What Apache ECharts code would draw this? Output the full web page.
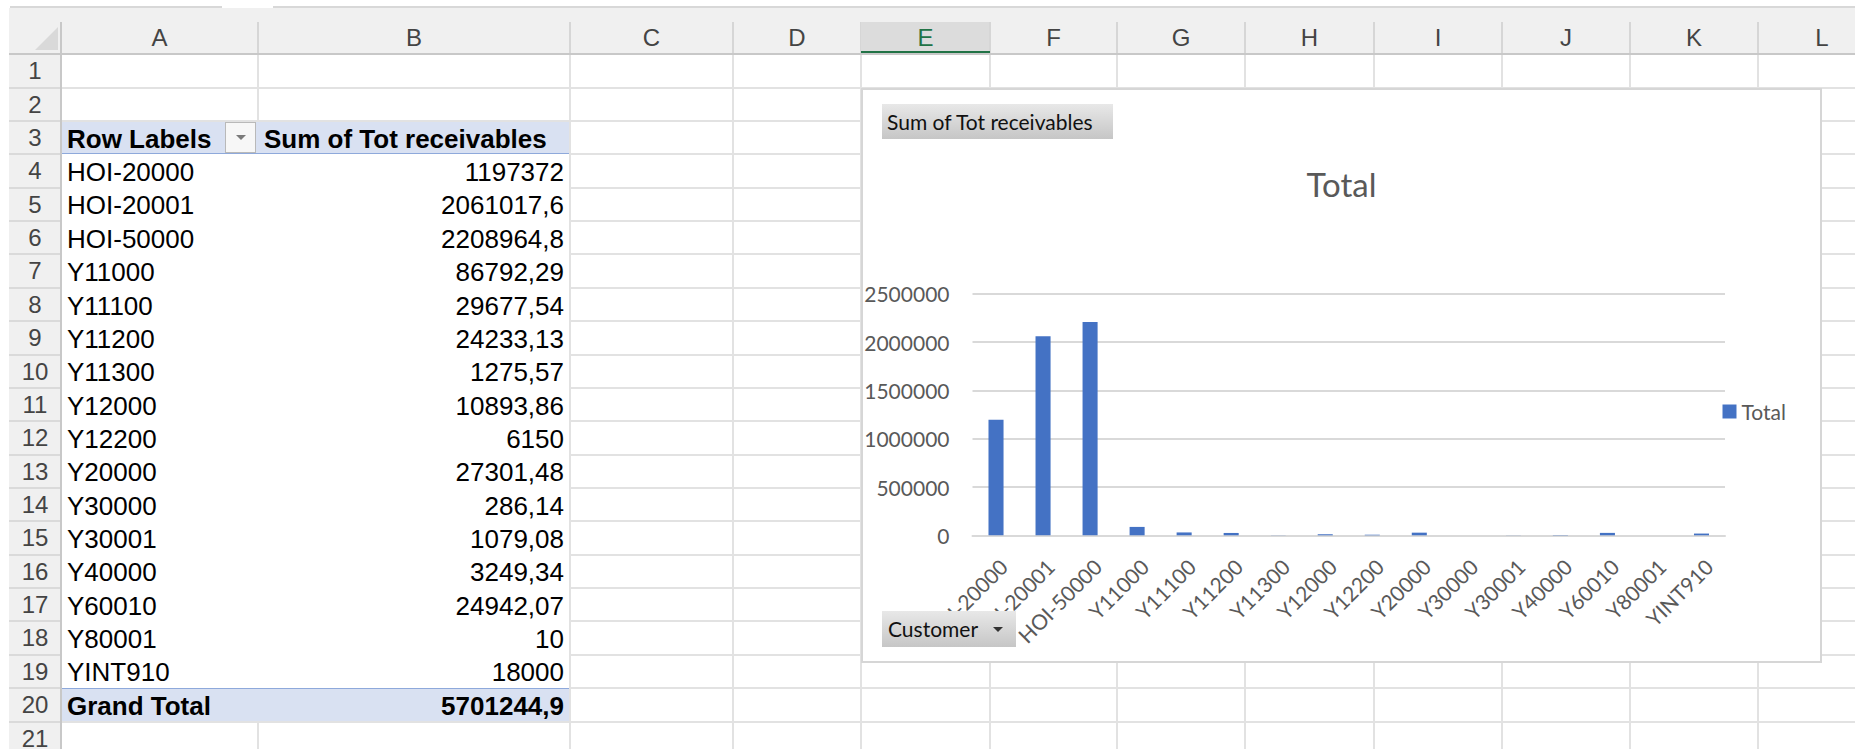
<!DOCTYPE html>
<html>
<head>
<meta charset="utf-8">
<script src="https://cdn.jsdelivr.net/npm/echarts@6/dist/echarts.min.js"></script>
<style>
html,body{margin:0;padding:0;background:#fff;}
#sheet{position:relative;width:1855px;height:749px;overflow:hidden;font-family:"Liberation Sans",Arial,sans-serif;background:#fff;}
.abs{position:absolute;box-sizing:border-box;white-space:nowrap;}
.btn{background:linear-gradient(#e8e8e8,#c6c6c6);font-family:Lato,sans-serif;font-size:21px;color:#111;}
</style>
</head>
<body>
<div id="sheet"></div>
<script>
// ---------------- data ----------------
const columnLetters = ['A','B','C','D','E','F','G','H','I','J','K','L'];
const customers = ['HOI-20000','HOI-20001','HOI-50000','Y11000','Y11100','Y11200','Y11300','Y12000','Y12200','Y20000','Y30000','Y30001','Y40000','Y60010','Y80001','YINT910'];
const receivables = [1197372, 2061017.6, 2208964.8, 86792.29, 29677.54, 24233.13, 1275.57, 10893.86, 6150, 27301.48, 286.14, 1079.08, 3249.34, 24942.07, 10, 18000];
const tableHeaders = ['Row Labels', 'Sum of Tot receivables'];
const grandTotalLabel = 'Grand Total';
const chartTitle = 'Total';
const seriesName = 'Total';
const valueFieldButton = 'Sum of Tot receivables';
const axisFieldButton = 'Customer';
const yTickValues = [0, 500000, 1000000, 1500000, 2000000, 2500000];

// ---------------- layout ----------------
const sheet = document.getElementById('sheet');
function box(l, t, w, h, style, text) {
  const d = document.createElement('div');
  d.className = 'abs';
  Object.assign(d.style, {left: l + 'px', top: t + 'px', width: w + 'px', height: h + 'px'}, style || {});
  if (text !== undefined) d.textContent = text;
  sheet.appendChild(d);
  return d;
}
const colEdges = [61, 258, 570, 733, 861, 990, 1117, 1245, 1374, 1502, 1630, 1758, 1886];
const ROW0 = 54.3, ROW_H = 33.36, NROWS = 21;
const rowTop = r => ROW0 + (r - 1) * ROW_H;
const GRID = '#e2e2e2';

// top frame line
box(10, 6, 212, 1.5, {background: '#d8d8d8'});
box(273, 6, 1600, 1.5, {background: '#d8d8d8'});
// header band
box(9, 7.5, 1860, 47, {background: '#f0f0f0'});
// corner triangle
box(35, 27, 0, 0, {borderBottom: '23px solid #d9d9d9', borderLeft: '23px solid transparent'});
// column headers
columnLetters.forEach((c, i) => {
  const l = colEdges[i], w = colEdges[i + 1] - colEdges[i];
  const sel = c === 'E';
  if (sel) box(l, 22, w, 32, {background: '#dcdcdc'});
  box(l, 22, w, 32, {textAlign: 'center', lineHeight: '32px', fontSize: '24px', color: sel ? '#217346' : '#444'}, c);
  box(colEdges[i + 1] - 1, 22, 2, 32, {background: '#d6d6d6'});
  if (sel) box(l, 51, w, 3, {background: '#217346'});
});
// row header column
box(9, 54, 52, 700, {background: '#f0f0f0'});
for (let r = 1; r <= NROWS; r++) {
  box(9, rowTop(r), 52, ROW_H, {textAlign: 'center', lineHeight: ROW_H + 'px', fontSize: '24px', color: '#444'}, String(r));
  box(9, rowTop(r + 1) - 1, 52, 2, {background: '#dadada'});
}
box(60, 22, 1.5, 730, {background: '#c8c8c8'});
box(9, 53, 1860, 1.5, {background: '#c8c8c8'});
// gridlines
for (let i = 1; i < colEdges.length; i++) box(colEdges[i] - 1, 54.5, 2, 700, {background: GRID});
for (let r = 1; r <= NROWS; r++) box(61.5, rowTop(r + 1) - 1, 1800, 2, {background: GRID});
// pivot table fill
box(62, rowTop(3) + 1, 507, rowTop(21) - rowTop(3) - 1, {background: '#fff'});
box(62, rowTop(3) + 1, 507, ROW_H - 1, {background: '#d9e1f2', borderBottom: '1.5px solid #8ea9db'});
box(62, rowTop(20), 507, ROW_H, {background: '#d9e1f2', borderTop: '1.5px solid #8ea9db'});

function cellText(r, colIdx, text, align, bold) {
  const l = colEdges[colIdx], w = colEdges[colIdx + 1] - l;
  box(l + 6, rowTop(r) + 1.7, w - 12, ROW_H, {
    textAlign: align, lineHeight: ROW_H + 'px', fontSize: '26px', color: '#000', fontWeight: bold ? 'bold' : 'normal'
  }, text);
}
const fmt = v => String(v).replace('.', ',');
cellText(3, 0, tableHeaders[0], 'left', true);
cellText(3, 1, tableHeaders[1], 'left', true);
// dropdown in A3
box(224.5, 121.5, 31.5, 31, {background: '#f7f7f7', border: '1px solid #b9b9b9'});
box(236, 135, 0, 0, {borderTop: '5px solid #7a7a7a', borderLeft: '5px solid transparent', borderRight: '5px solid transparent'});
customers.forEach((c, i) => {
  cellText(4 + i, 0, c, 'left', false);
  cellText(4 + i, 1, fmt(receivables[i]), 'right', false);
});
const grandTotal = Math.round(receivables.reduce((a, b) => a + b, 0) * 100) / 100;
cellText(20, 0, grandTotalLabel, 'left', true);
cellText(20, 1, fmt(grandTotal), 'right', true);

// chart
const CH = {l: 861, t: 87.5, w: 961, h: 575.5};
const chartDiv = box(CH.l, CH.t, CH.w, CH.h, {background: '#fff'});
chartDiv.id = 'chart';
box(CH.l, CH.t, CH.w, CH.h, {border: '2px solid #d6d6d6', pointerEvents: 'none'});

const chart = echarts.init(chartDiv, null, {renderer: 'svg', width: CH.w, height: CH.h});
chart.setOption({
  animation: false,
  backgroundColor: 'transparent',
  textStyle: {fontFamily: 'Lato'},
  title: {
    text: chartTitle, left: 'center', top: 74,
    textStyle: {fontFamily: 'Lato', fontSize: 33, fontWeight: 'normal', color: '#595959'}
  },
  legend: {
    data: [seriesName], left: 861.5, top: 313, padding: 0,
    icon: 'rect', itemWidth: 14, itemHeight: 14,
    textStyle: {fontFamily: 'Lato', fontSize: 21, color: '#595959'}
  },
  grid: {left: 111.5, right: 97, top: 205.8, bottom: 128.2, containLabel: false},
  xAxis: {
    type: 'category', data: customers,
    axisLine: {lineStyle: {color: '#d9d9d9', width: 2}},
    axisTick: {show: false},
    axisLabel: {interval: 0, rotate: 45, margin: 20, align: 'right', verticalAlign: 'top',
      fontFamily: 'Lato', fontSize: 21, color: '#595959', hideOverlap: false}
  },
  yAxis: {
    type: 'value', min: yTickValues[0], max: yTickValues[yTickValues.length - 1],
    interval: yTickValues[1] - yTickValues[0],
    axisLine: {show: false}, axisTick: {show: false},
    splitLine: {lineStyle: {color: '#d9d9d9', width: 2}},
    axisLabel: {margin: 23, fontFamily: 'Lato', fontSize: 21, color: '#595959', formatter: v => String(v)}
  },
  series: [{type: 'bar', name: seriesName, data: receivables, barWidth: '32%', itemStyle: {color: '#4472C4'}}]
});

// pivot chart field buttons
const b1 = box(882, 103.5, 230.5, 35.5, {lineHeight: '35.5px', paddingLeft: '5px'}, valueFieldButton);
b1.className += ' btn';
const b2 = box(882, 611, 134, 36, {lineHeight: '36px', paddingLeft: '6px'}, axisFieldButton);
b2.className += ' btn';
box(993, 627, 0, 0, {borderTop: '5px solid #333', borderLeft: '5px solid transparent', borderRight: '5px solid transparent'});
</script>
</body>
</html>
